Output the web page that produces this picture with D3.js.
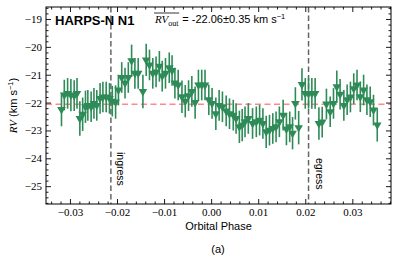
<!DOCTYPE html>
<html><head><meta charset="utf-8">
<script src="https://cdn.jsdelivr.net/npm/d3@7"></script>
<style>body{margin:0;background:#fff}svg{display:block}</style>
</head><body>
<svg id="chart" width="399" height="264"></svg>
<script>
// ---- data ----
const phase = [-0.0318,-0.0312,-0.0305,-0.0298,-0.0291,-0.0285,-0.0279,-0.0273,-0.0267,-0.0262,
  -0.0255,-0.0249,-0.0243,-0.0236,-0.0230,-0.0223,-0.0216,-0.0210,-0.0203,-0.0197,
  -0.0190,-0.0183,-0.0176,-0.0169,-0.0162,-0.0155,-0.0145,-0.0138,-0.0131,-0.0124,
  -0.0117,-0.0110,-0.0104,-0.0097,-0.0089,-0.0083,-0.0077,-0.0070,-0.0062,-0.0055,
  -0.0048,-0.0041,-0.0034,-0.0027,-0.0020,-0.0013,-0.0005,0.0002,0.0010,0.0017,
  0.0024,0.0032,0.0039,0.0047,0.0053,0.0060,0.0066,0.0072,0.0079,0.0088,
  0.0096,0.0103,0.0110,0.0117,0.0124,0.0131,0.0138,0.0145,0.0153,0.0160,
  0.0167,0.0173,0.0179,0.0186,0.0193,0.0200,0.0207,0.0214,0.0221,0.0229,
  0.0236,0.0245,0.0253,0.0260,0.0267,0.0274,0.0282,0.0289,0.0296,0.0303,
  0.0310,0.0317,0.0324,0.0331,0.0338,0.0345,0.0353];
const rv = [-22.25,-21.73,-21.67,-21.73,-21.75,-21.67,-22.57,-22.42,-22.15,-22.10,
  -22.15,-22.03,-22.10,-21.85,-21.80,-21.80,-21.85,-21.95,-21.98,-21.55,
  -21.10,-21.30,-21.10,-20.50,-20.95,-20.95,-21.60,-20.47,-20.65,-20.95,
  -20.90,-20.70,-21.05,-20.95,-20.75,-20.85,-21.30,-21.37,-21.79,-21.95,
  -21.75,-21.60,-22.00,-21.37,-21.37,-21.37,-21.90,-22.03,-22.40,-22.10,
  -22.15,-22.30,-22.40,-22.45,-22.57,-22.87,-22.81,-22.69,-22.57,-22.75,
  -22.69,-22.63,-22.75,-23.05,-22.99,-22.93,-22.87,-22.69,-22.45,-22.95,
  -22.87,-23.10,-22.03,-22.90,-21.35,-21.67,-21.67,-21.67,-21.67,-22.75,
  -22.70,-22.05,-22.33,-22.03,-21.43,-21.70,-22.10,-21.90,-21.80,-21.50,
  -21.37,-21.79,-21.55,-21.90,-21.97,-22.27,-22.80];
const rvErr = [0.60,0.55,0.55,0.58,0.55,0.55,0.62,0.60,0.58,0.55,
  0.55,0.55,0.55,0.55,0.55,0.55,0.55,0.55,0.60,0.55,
  0.55,0.55,0.55,0.58,0.55,0.55,0.60,0.58,0.55,0.55,
  0.55,0.55,0.55,0.55,0.55,0.55,0.55,0.55,0.58,0.58,
  0.55,0.55,0.58,0.55,0.55,0.55,0.55,0.55,0.58,0.55,
  0.55,0.55,0.55,0.55,0.55,0.58,0.58,0.55,0.55,0.55,
  0.55,0.55,0.55,0.58,0.55,0.55,0.55,0.55,0.55,0.58,
  0.55,0.58,0.58,0.60,0.58,0.55,0.55,0.55,0.55,0.58,
  0.55,0.55,0.55,0.55,0.58,0.55,0.55,0.55,0.55,0.55,
  0.55,0.55,0.55,0.55,0.55,0.55,0.60];
const xTicks = [-0.03,-0.02,-0.01,0.00,0.01,0.02,0.03];
const xTickLabels = ["\u22120.03","\u22120.02","\u22120.01","0.00","0.01","0.02","0.03"];
const yTicks = [-25,-24,-23,-22,-21,-20,-19];
const yTickLabels = ["\u221225","\u221224","\u221223","\u221222","\u221221","\u221220","\u221219"];
const rvOut = -22.06, rvOutErr = 0.35;
const transitEdges = [-0.0213, 0.0207];
const edgeLabels = ["ingress","egress"];
const title = "HARPS-N N1";

// ---- layout ----
const svg = d3.select("#chart");
const L = 46, R = 391, T = 7, B = 204;
const x = d3.scaleLinear().domain([-0.03509, 0.03822]).range([L, R]);
const y = d3.scaleLinear().domain([-25.64, -18.57]).range([B, T]);
const green = "#2e8b57";
const serif = "'Liberation Serif', 'DejaVu Serif', serif";
const sans = "'Liberation Sans', Arial, sans-serif";

// red mean line
svg.append("line").attr("x1", L).attr("x2", R).attr("y1", y(rvOut)).attr("y2", y(rvOut))
  .attr("stroke", "#ff5555").attr("stroke-opacity", 0.7).attr("stroke-width", 1.5)
  .attr("stroke-dasharray", "6,3.5");

// ingress / egress lines
svg.selectAll(".edge").data(transitEdges).join("line")
  .attr("x1", d => x(d)).attr("x2", d => x(d)).attr("y1", T).attr("y2", B)
  .attr("stroke", "#666").attr("stroke-width", 1.5).attr("stroke-dasharray", "5.5,3");

// data
const pts = phase.map((p, i) => ({p, v: rv[i], e: rvErr[i]}));
const g = svg.append("g");
g.selectAll(".eb").data(pts).join("line")
  .attr("x1", d => x(d.p)).attr("x2", d => x(d.p))
  .attr("y1", d => y(d.v - d.e)).attr("y2", d => y(d.v + d.e))
  .attr("stroke", green).attr("stroke-width", 1.6);
const tri = d3.symbol(d3.symbolTriangle).size(32);
g.selectAll(".mk").data(pts).join("path")
  .attr("d", tri)
  .attr("transform", d => `translate(${x(d.p)},${y(d.v)}) rotate(180)`)
  .attr("fill", green);

// axes
function styleAxis(sel) {
  sel.select(".domain").remove();
  sel.selectAll("line").attr("stroke", "#000").attr("stroke-width", 0.9);
}
const xMinor = d3.range(-0.034, 0.0381, 0.002).filter(v => Math.abs(Math.round(v*100) - v*100) > 1e-6);
const yMinor = d3.range(-25.6, -18.59, 0.2).filter(v => Math.abs(Math.round(v) - v) > 1e-6);

svg.append("g").attr("transform", `translate(0,${B})`)
  .call(d3.axisBottom(x).tickValues(xTicks).tickSize(-5).tickPadding(4)
    .tickFormat((d, i) => xTickLabels[i]))
  .call(styleAxis)
  .selectAll("text").attr("font-family", serif).attr("font-size", 11).attr("fill", "#000");
svg.append("g").attr("transform", `translate(0,${B})`)
  .call(d3.axisBottom(x).tickValues(xMinor).tickSize(-2.5).tickFormat("")).call(styleAxis);
svg.append("g").attr("transform", `translate(0,${T})`)
  .call(d3.axisTop(x).tickValues(xTicks).tickSize(-5).tickFormat("")).call(styleAxis);
svg.append("g").attr("transform", `translate(0,${T})`)
  .call(d3.axisTop(x).tickValues(xMinor).tickSize(-2.5).tickFormat("")).call(styleAxis);

svg.append("g").attr("transform", `translate(${L},0)`)
  .call(d3.axisLeft(y).tickValues(yTicks).tickSize(-5).tickPadding(4)
    .tickFormat((d, i) => yTickLabels[i]))
  .call(styleAxis)
  .selectAll("text").attr("font-family", serif).attr("font-size", 11).attr("fill", "#000");
svg.append("g").attr("transform", `translate(${L},0)`)
  .call(d3.axisLeft(y).tickValues(yMinor).tickSize(-2.5).tickFormat("")).call(styleAxis);
svg.append("g").attr("transform", `translate(${R},0)`)
  .call(d3.axisRight(y).tickValues(yTicks).tickSize(-5).tickFormat("")).call(styleAxis);
svg.append("g").attr("transform", `translate(${R},0)`)
  .call(d3.axisRight(y).tickValues(yMinor).tickSize(-2.5).tickFormat("")).call(styleAxis);

// frame
svg.append("rect").attr("x", L).attr("y", T).attr("width", R - L).attr("height", B - T)
  .attr("fill", "none").attr("stroke", "#000").attr("stroke-width", 1);

// edge labels
svg.selectAll(".elab").data(transitEdges).join("text")
  .attr("transform", (d, i) => `translate(${x(d) + (i === 0 ? 6.5 : 7.5)},${i === 0 ? 152 : 158}) rotate(90)`)
  .attr("font-family", sans).attr("font-size", 10.5).attr("fill", "#000")
  .text((d, i) => edgeLabels[i]);

// title
svg.append("text").attr("x", 55).attr("y", 25).attr("font-family", sans)
  .attr("font-weight", "bold").attr("font-size", 13).attr("fill", "#000").text(title);

// annotation
const ann = svg.append("g");
const t1 = ann.append("text").attr("x", 155).attr("y", 23).attr("fill", "#000");
t1.append("tspan").attr("font-family", serif).attr("font-style", "italic").attr("font-size", 11).text("RV");
t1.append("tspan").attr("font-family", serif).attr("font-size", 8).attr("dy", 2.5).text("out");
const bb = t1.node().getBBox();
ann.append("line").attr("x1", bb.x).attr("x2", bb.x + bb.width).attr("y1", 13).attr("y2", 13)
  .attr("stroke", "#000").attr("stroke-width", 0.8);
const t2 = ann.append("text").attr("x", bb.x + bb.width + 3).attr("y", 23)
  .attr("font-family", sans).attr("font-size", 11).attr("fill", "#000");
t2.append("tspan").text(`= ${rvOut.toFixed(2)}\u00b1${rvOutErr.toFixed(2)} km s`);
t2.append("tspan").attr("font-size", 7.5).attr("dy", -4.5).text("\u22121");

// axis labels
svg.append("text").attr("x", (L + R) / 2).attr("y", 230).attr("text-anchor", "middle")
  .attr("font-family", sans).attr("font-size", 11).attr("fill", "#000").text("Orbital Phase");
const yl = svg.append("text").attr("transform", `translate(17,${(T + B) / 2}) rotate(-90)`)
  .attr("text-anchor", "middle").attr("fill", "#000");
yl.append("tspan").attr("font-family", serif).attr("font-style", "italic").attr("font-size", 11).text("RV");
yl.append("tspan").attr("font-family", sans).attr("font-size", 11).text(" (km s");
yl.append("tspan").attr("font-family", sans).attr("font-size", 7.5).attr("dy", -4.5).text("\u22121");
yl.append("tspan").attr("font-family", sans).attr("font-size", 11).attr("dy", 4.5).text(")");

svg.append("text").attr("x", 218).attr("y", 253).attr("text-anchor", "middle")
  .attr("font-family", sans).attr("font-size", 11).attr("fill", "#000").text("(a)");
</script>
</body></html>
